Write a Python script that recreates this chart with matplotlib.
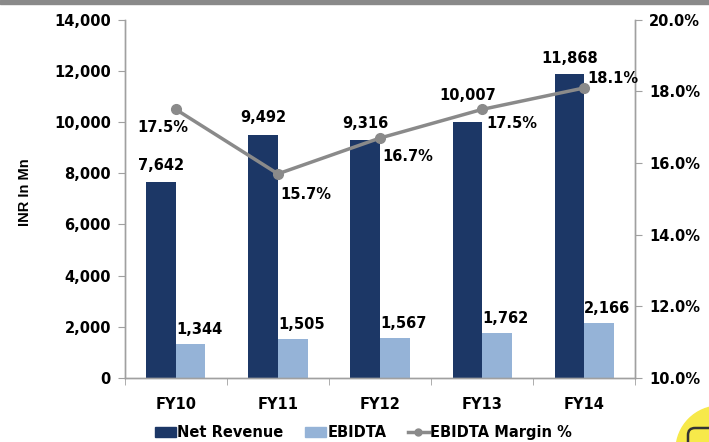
import numpy as np
import matplotlib.pyplot as plt
from matplotlib.patches import Circle, FancyBboxPatch, Rectangle
from matplotlib.lines import Line2D
from matplotlib.ticker import FuncFormatter, MultipleLocator

plt.rcParams['font.family'] = ['DejaVu Sans']
plt.rcParams['font.weight'] = 'bold'

years = ["FY10", "FY11", "FY12", "FY13", "FY14"]
net_revenue = [7642, 9492, 9316, 10007, 11868]
ebidta = [1344, 1505, 1567, 1762, 2166]
margin = [17.5, 15.7, 16.7, 17.5, 18.1]

dark = "#1c3766"
light = "#95b3d7"
grey_line = "#8a8a8a"

fig = plt.figure(figsize=(7.09, 4.42), dpi=100)
ax = fig.add_axes([0.176, 0.145, 0.72, 0.81])
ax2 = ax.twinx()

x = np.arange(len(years))
w = 0.29
ax.bar(x - w / 2, net_revenue, w, color=dark, zorder=2)
ax.bar(x + w / 2, ebidta, w, color=light, zorder=2)

# label gaps (points) above the revenue bars, excel labels were nudged by hand
rev_gap = [7, 7, 6, 14, 6]
for i in range(len(years)):
    ax.annotate(f"{net_revenue[i]:,}", (x[i] - w / 2, net_revenue[i]), xytext=(0, rev_gap[i]),
                textcoords="offset points", ha="center", va="bottom", fontsize=10.5)
    ax.annotate(f"{ebidta[i]:,}", (x[i], ebidta[i]), xytext=(0, 5),
                textcoords="offset points", ha="left", va="bottom", fontsize=10.5)

ax2.plot(x, margin, color=grey_line, lw=2.5, marker="o", ms=7, zorder=3)
# label offsets (points) for the margin line
offs = [(-28, -13), (2, -15), (2, -13), (3, -10), (2, 7)]
for i in range(len(years)):
    ax2.annotate(f"{margin[i]:.1f}%", (x[i], margin[i]), xytext=offs[i],
                 textcoords="offset points", ha="left", va="center", fontsize=10.5)

ax.set_xlim(-0.5, 4.5)
ax.set_ylim(0, 14000)
ax2.set_ylim(10, 20)
ax.yaxis.set_major_locator(MultipleLocator(2000))
ax2.yaxis.set_major_locator(MultipleLocator(2))
ax.yaxis.set_major_formatter(FuncFormatter(lambda v, p: f"{int(v):,}"))
ax2.yaxis.set_major_formatter(FuncFormatter(lambda v, p: f"{v:.1f}%"))

ax.set_xticks(x)
ax.set_xticklabels(years)
ax.set_xticks(np.arange(-0.5, 5, 1), minor=True)
ax.tick_params(axis="x", which="major", length=0, pad=14, labelsize=10.5)
ax.tick_params(axis="x", which="minor", length=5, color="#a0a0a0")
ax.tick_params(axis="y", length=5, color="#a0a0a0", labelsize=10.5, pad=5)
ax2.tick_params(axis="y", length=5, color="#a0a0a0", labelsize=10.5, pad=5)

for a in (ax, ax2):
    a.spines["top"].set_visible(False)
    for s in ("left", "right", "bottom"):
        a.spines[s].set_color("#a0a0a0")
        a.spines[s].set_linewidth(1)

ax.set_ylabel("INR In Mn", fontsize=10.5, fontweight="bold",
              family=["Liberation Sans Narrow", "Liberation Sans"])
ax.yaxis.set_label_coords(-0.182, 0.52)

handles = [Rectangle((0, 0), 1, 1, color=dark),
           Rectangle((0, 0), 1, 1, color=light),
           Line2D([0], [0], color=grey_line, lw=2.5, marker="o", ms=5)]
fig.legend(handles, ["Net Revenue", "EBIDTA", "EBIDTA Margin %"], loc="center",
           bbox_to_anchor=(0.513, 0.022), ncol=3, frameon=False, fontsize=10.5,
           handlelength=1.4, handletextpad=0.1, columnspacing=1.5)

# grey band along the top and the yellow badge in the corner (pixel coords)
fig.patches.append(Rectangle((0, 0.99), 1, 0.01, transform=fig.transFigure,
                             color="#8a8a8a", zorder=0))
fig.patches.append(Circle((720, -8), 44, transform=None, color="#f7e94a", zorder=5))
fig.patches.append(FancyBboxPatch((688, -20), 50, 34, boxstyle="round,pad=0,rounding_size=7",
                                  transform=None, fc="none", ec="#333333", lw=1.8, zorder=6))

fig.savefig("out.png", dpi=100)
